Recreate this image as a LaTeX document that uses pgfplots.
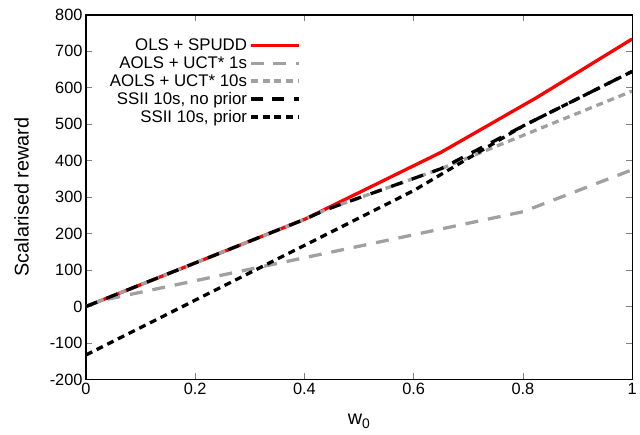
\documentclass[border=0pt]{standalone}
\usepackage{fontspec}
\setmainfont{Liberation Sans}
\usepackage{pgfplots}
\pgfplotsset{compat=1.18}
\definecolor{gpRed}{RGB}{255,0,0}
\definecolor{gpGray}{RGB}{160,160,160}

\begin{document}
\begin{tikzpicture}
\begin{axis}[
 scale only axis,width=549.5bp,height=366.7bp,
 xmin=0,xmax=1,ymin=-200,ymax=800,
 xtick={0,0.2,0.4,0.6,0.8,1},ytick={-200,-100,0,100,200,300,400,500,600,700,800},
 /pgf/number format/assume math mode=true,
 tick label style={font=\fontsize{16.5}{18}\selectfont},
 tick align=inside,major tick length=6bp,
 axis line style={line width=1.2bp},major tick style={line width=0.8bp},
 xlabel={w\textsubscript{0}},ylabel={Scalarised reward},
 xlabel style={font=\fontsize{20}{22}\selectfont,at={(axis description cs:0.5,-0.115)},anchor=center},
 ylabel style={font=\fontsize{20}{22}\selectfont,at={(axis description cs:-0.118,0.5)},anchor=center},
 legend style={draw=none,fill=none,font=\fontsize{17}{19}\selectfont,
   at={(axis description cs:0.394,0.94)},anchor=north east,row sep=0.5bp,inner sep=0pt},
 legend cell align=right,legend plot pos=right,
 legend image code/.code={\draw[#1] (0bp,0bp) -- (49bp,0bp);},
 every axis plot/.append style={line width=3.3bp,line cap=butt,line join=miter},
]
\addplot[gpRed] coordinates {(0,0) (0.4,239) (0.65,423) (0.825,573) (1,734)};
\addlegendentry{OLS + SPUDD}
\addplot[gpGray,dash pattern=on 13bp off 10bp] coordinates {(0,0) (0.03,17) (0.8,260) (1,375)};
\addlegendentry{AOLS + UCT* 1s}
\addplot[gpGray,dash pattern=on 7bp off 5bp] coordinates {(0,0) (0.4,239) (0.44,266) (0.65,378) (1,591)};
\addlegendentry{AOLS + UCT* 10s}
\addplot[black,dash pattern=on 12bp off 10bp] coordinates {(0,0) (0.4,239) (0.44,266) (0.65,378) (0.8,495) (1,645)};
\addlegendentry{SSII 10s, no prior}
\addplot[black,dash pattern=on 7bp off 5bp] coordinates {(0,-133) (0.6,318) (0.8,495) (1,645)};
\addlegendentry{SSII 10s, prior}
\end{axis}
\path (current axis.south west) ++(-86.5bp,-55.3bp) rectangle ++(640bp,437bp);
\end{tikzpicture}
\end{document}
